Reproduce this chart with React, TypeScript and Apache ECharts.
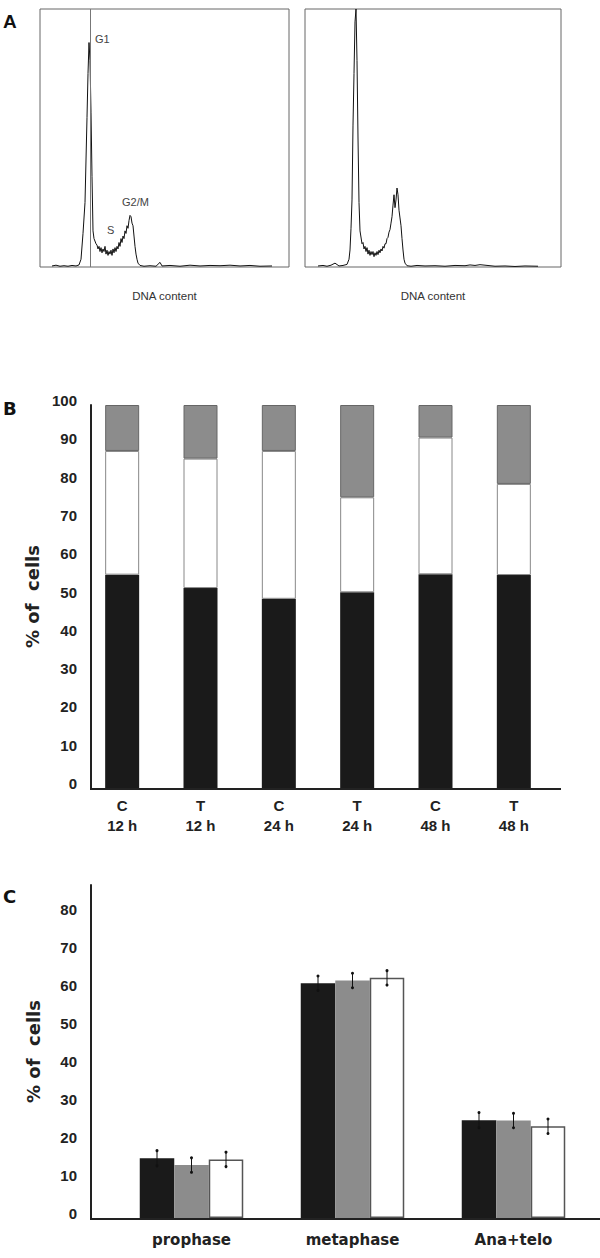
import React, { useEffect, useRef } from "react";
import * as echarts from "echarts";

// ---------- Panel A: DNA content histograms ----------
const leftChannels = [12, 16, 20, 24, 28, 32, 36, 39, 41, 43, 45, 47, 48, 49, 50, 51, 52, 53, 54, 56, 57, 58, 59, 60, 61, 62, 63, 64, 65, 66, 67, 68, 69, 70, 71, 72, 73, 74, 75, 76, 77, 78, 79, 80, 81, 82, 83, 84, 85, 86, 87, 88, 89, 90, 91, 92, 93, 94, 95, 96, 97, 98, 100, 104, 110, 116, 120, 122, 130, 140, 150, 160, 170, 180, 190, 200, 210, 220, 232];
const leftCounts = [0.4, 0.7, 0.3, 0.5, 0.3, 0.6, 0.4, 0.8, 3, 13, 25, 58, 75, 87, 80, 60, 35, 14, 11, 9, 8.5, 7, 8, 6, 7.5, 5.5, 7, 6, 8, 5, 6.5, 4.5, 6, 5, 6.5, 4.5, 7, 5.5, 7.5, 6, 8, 7, 9.5, 8, 11, 9.5, 12, 11, 14, 13, 16, 15, 18, 20, 19.5, 17, 16, 12, 8, 5, 3, 1.5, 0.6, 0.3, 0.5, 0.3, 1.8, 0.4, 0.6, 0.3, 0.7, 0.4, 0.6, 0.5, 0.7, 0.4, 0.6, 0.3, 0.4];
const leftGate = 50;

const rightChannels = [13, 18, 22, 26, 30, 34, 38, 42, 44, 45, 46, 47, 48, 49, 50, 51, 52, 53, 54, 55, 57, 58, 59, 60, 61, 62, 63, 64, 65, 66, 67, 68, 69, 70, 71, 72, 73, 74, 75, 76, 77, 78, 79, 80, 81, 82, 83, 84, 85, 86, 87, 88, 89, 90, 91, 92, 93, 94, 95, 96, 97, 98, 99, 100, 102, 106, 112, 120, 130, 140, 150, 160, 165, 170, 175, 180, 185, 190, 200, 210, 220, 233];
const rightCounts = [0.4, 0.6, 0.3, 0.7, 1.5, 0.4, 0.6, 1, 3, 6.6, 15, 26, 55, 75, 95, 100, 80, 50, 25, 14, 9, 9.5, 7, 8, 6, 7.5, 5, 6.5, 4.5, 6, 4.8, 6, 4, 5.5, 4.5, 6, 4.8, 6.5, 5.5, 7, 6.2, 8, 7.3, 9, 9, 11, 11.5, 13.5, 14.5, 17, 19.5, 24, 28, 23, 26, 30.6, 28, 22, 19, 16, 11, 6.6, 3, 1.5, 0.5, 0.3, 0.6, 0.4, 0.5, 0.3, 0.6, 0.5, 0.8, 0.6, 0.9, 0.7, 0.5, 0.3, 0.4, 0.2, 0.4, 0.3];

// ---------- Panel B: % of cells per phase ----------
const bCategories = ["C\n12 h", "T\n12 h", "C\n24 h", "T\n24 h", "C\n48 h", "T\n48 h"];
const bBlack = [55.7, 52.2, 49.4, 51.1, 55.8, 55.6];
const bWhite = [32.3, 33.8, 38.6, 24.8, 35.7, 23.8];
const bGrey = [12.0, 14.0, 12.0, 24.1, 8.5, 20.6];
const bTicks = [0, 10, 20, 30, 40, 50, 60, 70, 80, 90, 100];

// ---------- Panel C: mitotic phases ----------
const cCategories = ["prophase", "metaphase", "Ana+telo"];
const cBlack = [15.7, 61.7, 25.7];
const cBlackErr = [2.0, 1.9, 2.0];
const cGrey = [13.9, 62.4, 25.6];
const cGreyErr = [1.9, 1.9, 1.9];
const cWhite = [15.4, 63.1, 24.1];
const cWhiteErr = [1.9, 1.9, 1.9];

const C_BAR_W = 34.5;

const pairs = (xs: number[], ys: number[]) => xs.map((x, i) => [x, ys[i]]);

export default function App() {
  const ref = useRef<HTMLDivElement>(null);

  useEffect(() => {
    if (!ref.current) return;
    const chart = echarts.init(ref.current, null, { renderer: "svg" });

    const errData: number[][] = [];
    [[cBlack, cBlackErr], [cGrey, cGreyErr], [cWhite, cWhiteErr]].forEach(([vals, errs], s) => {
      vals.forEach((v, i) => errData.push([i, v, errs[i], s]));
    });

    const histAxisName = {
      name: "DNA content",
      nameLocation: "middle",
      nameGap: 23,
      nameTextStyle: { fontFamily: "Liberation Sans", fontSize: 11.5, color: "#333" },
    };

    const boldLabel = { fontFamily: "Liberation Sans", fontWeight: "bold", fontSize: 15, color: "#222" };
    const yTickLabel = { ...boldLabel, margin: 14, verticalAlign: "bottom", lineHeight: 9 };
    const yName = {
      name: "% of  cells", nameLocation: "middle", nameRotate: 90, nameGap: 49,
      nameTextStyle: { fontFamily: "DejaVu Sans", fontWeight: "bold", fontSize: 18, color: "#222" },
    };

    const option: any = {
      animation: false,
      backgroundColor: "#fff",
      grid: [
        { left: 40, top: 9, width: 249, height: 258, show: true, borderColor: "#666", borderWidth: 1 },
        { left: 305, top: 9, width: 256, height: 258, show: true, borderColor: "#666", borderWidth: 1 },
        { left: 83, top: 405, width: 470, height: 383 },
        { left: 111, top: 885, width: 483, height: 333 },
      ],
      xAxis: [
        { type: "value", gridIndex: 0, min: 0, max: 249, axisLine: { show: false }, axisTick: { show: false }, axisLabel: { show: false }, splitLine: { show: false }, ...histAxisName },
        { type: "value", gridIndex: 1, min: 0, max: 256, axisLine: { show: false }, axisTick: { show: false }, axisLabel: { show: false }, splitLine: { show: false }, ...histAxisName },
        {
          type: "category", gridIndex: 2, data: bCategories,
          axisLine: { show: false }, axisTick: { show: false },
          axisLabel: { ...boldLabel, lineHeight: 20, margin: 7 },
        },
        {
          type: "category", gridIndex: 3, data: cCategories,
          axisLine: { show: false }, axisTick: { show: false },
          axisLabel: { fontFamily: "DejaVu Sans", fontWeight: "bold", fontSize: 15, color: "#222", margin: 14 },
        },
      ],
      yAxis: [
        { type: "value", gridIndex: 0, min: 0, max: 100, show: false },
        { type: "value", gridIndex: 1, min: 0, max: 100, show: false },
        {
          type: "value", gridIndex: 2, min: bTicks[0], max: bTicks[bTicks.length - 1], interval: 10, offset: -8,
          axisLine: { show: true, lineStyle: { color: "#222", width: 2 } },
          axisTick: { show: false }, splitLine: { show: false },
          axisLabel: yTickLabel,
          ...yName,
        },
        {
          type: "value", gridIndex: 3, min: 0, max: 87.5, interval: 10, offset: 20,
          axisLine: { show: true, lineStyle: { color: "#222", width: 2 } },
          axisTick: { show: false }, splitLine: { show: false },
          axisLabel: { ...yTickLabel, formatter: (v: number) => (v % 10 === 0 ? String(v) : "") },
          ...yName,
        },
      ],
      series: [
        {
          type: "line", xAxisIndex: 0, yAxisIndex: 0, data: pairs(leftChannels, leftCounts),
          showSymbol: false, lineStyle: { color: "#111", width: 1 },
          markLine: {
            silent: true, symbol: "none", label: { show: false },
            lineStyle: { color: "#777", width: 1, type: "solid" },
            data: [{ xAxis: leftGate }],
          },
        },
        {
          type: "line", xAxisIndex: 1, yAxisIndex: 1, data: pairs(rightChannels, rightCounts),
          showSymbol: false, lineStyle: { color: "#111", width: 1 },
        },
        { type: "bar", name: "G1", stack: "b", xAxisIndex: 2, yAxisIndex: 2, barWidth: 34, data: bBlack, itemStyle: { color: "#1a1a1a" } },
        { type: "bar", name: "S", stack: "b", xAxisIndex: 2, yAxisIndex: 2, barWidth: 34, data: bWhite, itemStyle: { color: "#fff", borderColor: "#888", borderWidth: 1 } },
        { type: "bar", name: "G2/M", stack: "b", xAxisIndex: 2, yAxisIndex: 2, barWidth: 34, data: bGrey, itemStyle: { color: "#8c8c8c", borderColor: "#666", borderWidth: 1 } },
        { type: "bar", xAxisIndex: 3, yAxisIndex: 3, barWidth: C_BAR_W, barGap: "0%", data: cBlack, itemStyle: { color: "#1a1a1a" } },
        { type: "bar", xAxisIndex: 3, yAxisIndex: 3, barWidth: C_BAR_W, barGap: "0%", data: cGrey, itemStyle: { color: "#8c8c8c" } },
        { type: "bar", xAxisIndex: 3, yAxisIndex: 3, barWidth: C_BAR_W, barGap: "0%", data: cWhite, itemStyle: { color: "#fff", borderColor: "#555", borderWidth: 1.5 } },
        {
          type: "custom", xAxisIndex: 3, yAxisIndex: 3, z: 5, data: errData,
          renderItem: (params: any, api: any) => {
            const cat = api.value(0);
            const v = api.value(1);
            const e = api.value(2);
            const s = api.value(3);
            const off = (s - 1) * C_BAR_W;
            const top = api.coord([cat, v + e]);
            const bot = api.coord([cat, v - e]);
            const x = top[0] + off;
            return {
              type: "group",
              children: [
                { type: "line", shape: { x1: x, y1: top[1], x2: x, y2: bot[1] }, style: { stroke: "#111", lineWidth: 1 } },
                { type: "circle", shape: { cx: x, cy: top[1], r: 1.5 }, style: { fill: "#111" } },
                { type: "circle", shape: { cx: x, cy: bot[1], r: 1.5 }, style: { fill: "#111" } },
              ],
            };
          },
        },
      ],
      graphic: [
        { type: "text", x: 3, y: 21.5, style: { text: "A", font: 'bold 19px "Liberation Sans"', fill: "#111", verticalAlign: "middle" } },
        { type: "text", x: 3, y: 408, style: { text: "B", font: 'bold 18px "DejaVu Sans"', fill: "#111", verticalAlign: "middle" } },
        { type: "text", x: 3, y: 896, style: { text: "C", font: 'bold 18px "DejaVu Sans"', fill: "#111", verticalAlign: "middle" } },
        { type: "text", x: 95, y: 39, style: { text: "G1", font: '11px "Liberation Sans"', fill: "#444", verticalAlign: "middle" } },
        { type: "text", x: 107, y: 229.5, style: { text: "S", font: '11px "Liberation Sans"', fill: "#444", verticalAlign: "middle" } },
        { type: "text", x: 122, y: 202, style: { text: "G2/M", font: '11px "Liberation Sans"', fill: "#444", verticalAlign: "middle" } },
        { type: "line", shape: { x1: 90, y1: 789, x2: 561, y2: 789 }, style: { stroke: "#222", lineWidth: 2 } },
        { type: "line", shape: { x1: 90, y1: 1219, x2: 600, y2: 1219 }, style: { stroke: "#222", lineWidth: 2 } },
      ],
    };

    chart.setOption(option);
    return () => chart.dispose();
  }, []);

  return <div ref={ref} style={{ position: "absolute", left: 0, top: 0, width: 600, height: 1258 }} />;
}
